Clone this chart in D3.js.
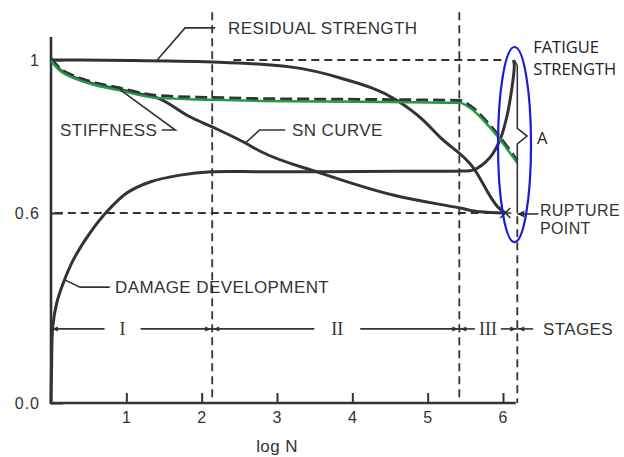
<!DOCTYPE html>
<html>
<head>
    <meta charset="utf-8">
    <title>Fatigue damage development</title>
    <script src="https://d3js.org/d3.v7.min.js"></script>
    <style>
        body {
            margin: 0;
            background: #fff;
        }
        svg {
            display: block;
            font-family: "Liberation Sans", Arial, sans-serif;
        }
        .lbl {
            font-size: 17px;
            fill: #333;
            letter-spacing: 0.4px;
        }
        .note {
            font-family: "Open Sans", "Noto Sans", sans-serif;
            font-size: 16.5px;
            fill: #222;
        }
        .axis text {
            font-size: 16px;
            fill: #333;
            letter-spacing: 1px;
        }
        .axis line {
            stroke: #333;
            stroke-width: 2;
        }
        .curve {
            fill: none;
            stroke: #333;
            stroke-width: 3;
        }
        .guide {
            fill: none;
            stroke: #333;
            stroke-width: 1.8;
            stroke-dasharray: 8 5;
        }
        .leader {
            fill: none;
            stroke: #333;
            stroke-width: 1.6;
        }
    </style>
</head>
<body>
<svg id="chart" width="624" height="457"></svg>
<script>
    // axis ticks
    const tickLogN = [1, 2, 3, 4, 5, 6];
    const tickStrength = [0, 0.6, 1];
    const tickStrengthLabels = ["0.0", "0.6", "1"];

    // curves (log N, normalised value)
    const residualX = [0, 1.05, 2.14, 3.17, 3.84, 4.59, 4.94, 5.16, 5.60, 5.93, 6.03];
    const residualY = [1.0, 0.999, 0.995, 0.982, 0.953, 0.895, 0.843, 0.799, 0.720, 0.616, 0.60];

    const stiffnessX = [0, 0.12, 0.29, 0.52, 0.88, 1.41, 2.14, 2.77, 4.10, 5.43, 5.56, 5.83, 6.19];
    const stiffnessY = [1.0, 0.974, 0.956, 0.940, 0.924, 0.903, 0.898, 0.895, 0.893, 0.890, 0.877, 0.825, 0.733];

    const snX = [0, 0.12, 0.29, 0.52, 0.88, 1.18, 1.41, 1.85, 2.14, 2.58, 2.77, 3.57, 4.54, 5.43, 5.69, 6.03];
    const snY = [1.0, 0.974, 0.956, 0.940, 0.924, 0.911, 0.901, 0.851, 0.825, 0.783, 0.762, 0.705, 0.647, 0.613, 0.603, 0.60];

    const damageX = [0, 0.007, 0.023, 0.076, 0.163, 0.296, 0.518, 0.740, 1.005, 1.314, 1.712, 2.133, 2.77, 3.57, 4.63, 5.43, 5.60, 5.83, 5.96, 6.05, 6.12, 6.15, 6.14];
    const damageY = [0, 0.104, 0.240, 0.316, 0.379, 0.452, 0.537, 0.603, 0.652, 0.681, 0.699, 0.708, 0.708, 0.708, 0.709, 0.710, 0.712, 0.746, 0.791, 0.851, 0.929, 0.985, 1.0];

    // stage boundaries
    const stageBounds = [0, 2.14, 5.42, 6.19];
    const stageNames = ["I", "II", "III"];
    const stageLabelAt = [0.95, 3.80, 5.80];
    const stageLevel = 0.234;

    const rupture = [6.03, 0.60];
    const fatigueTop = [6.15, 1.0];

    const svg = d3.select("#chart");
    svg.append("rect").attr("width", 624).attr("height", 457).attr("fill", "#fff");

    const x = d3.scaleLinear().domain([0, 6]).range([51, 503]);
    // the drawing is schematic: the 0.6 line sits higher than a linear scale would put it
    const y = d3.scaleLinear().domain([0, 0.6, 1]).range([403, 213, 60]);

    const zip = (xs, ys) => xs.map((v, i) => [v, ys[i]]);
    const smooth = d3.line().x(d => x(d[0])).y(d => y(d[1])).curve(d3.curveMonotoneX);
    const loose = d3.line().x(d => x(d[0])).y(d => y(d[1])).curve(d3.curveCatmullRom.alpha(0.5));
    const straight = d3.line().x(d => x(d[0])).y(d => y(d[1]));

    // dashed guides
    svg.append("path").attr("class", "guide").attr("d", straight([[2.42, 1], [6.05, 1]]));
    svg.append("path").attr("class", "guide").attr("d", straight([[0.05, 0.6], rupture]));
    svg.append("path").attr("class", "guide").attr("d", straight([[2.14, 1.125], [2.14, 0]]));
    svg.append("path").attr("class", "guide").attr("d", straight([[5.42, 1.125], [5.42, 0]]));
    svg.append("path").attr("class", "guide").attr("d", straight([[6.19, 0.59], [6.19, 0]]));

    // axes
    const xAxis = svg.append("g").attr("class", "axis")
        .attr("transform", `translate(0,${y(0)})`)
        .call(d3.axisBottom(x).tickValues(tickLogN).tickSize(-10).tickPadding(9).tickFormat(d3.format("d")));
    xAxis.select(".domain").remove();

    const yAxis = svg.append("g").attr("class", "axis")
        .attr("transform", `translate(${x(0)},0)`)
        .call(d3.axisLeft(y).tickValues(tickStrength).tickSize(-12).tickPadding(11)
            .tickFormat((d, i) => tickStrengthLabels[i]));
    yAxis.select(".domain").remove();

    svg.append("path").attr("fill", "none").attr("stroke", "#333").attr("stroke-width", 2.6)
        .attr("d", straight([[0, 1.06], [0, 0], [6.17, 0]]));

    // curves
    svg.append("path").attr("class", "curve").attr("d", smooth(zip(residualX, residualY)));
    svg.append("path").attr("class", "curve").attr("d", smooth(zip(snX, snY)));
    svg.append("path").attr("class", "curve").attr("d", loose(zip(damageX, damageY)));

    const stiff = zip(stiffnessX, stiffnessY);
    svg.append("path").attr("class", "curve").attr("transform", "translate(0,-1.5)")
        .attr("stroke-width", 2.6).attr("stroke-dasharray", "12 5").attr("d", smooth(stiff));
    svg.append("path").attr("fill", "none").attr("stroke", "#1f9b45").attr("stroke-width", 2.4)
        .attr("transform", "translate(0,0.8)").attr("d", smooth(stiff));

    // brace "A" from the fatigue strength down to rupture
    const bx = 6.19, tip = 0.801;
    const bracePts = [fatigueTop, [bx, 0.985], [bx, tip + 0.02], [bx + 0.13, tip], [bx, tip - 0.02], [bx, 0.6]];
    svg.append("path").attr("class", "leader").attr("stroke-width", 1.8)
        .attr("d", straight(bracePts));

    // rupture mark and arrow
    const rx0 = x(rupture[0]), ry0 = y(rupture[1]);
    svg.append("path").attr("class", "leader").attr("stroke-width", 1.5)
        .attr("d", `M${rx0 - 5},${ry0 - 5}L${rx0 + 5},${ry0 + 5}M${rx0 - 5},${ry0 + 5}L${rx0 + 5},${ry0 - 5}M${rx0 - 6},${ry0}L${rx0 + 6},${ry0}`);
    svg.append("path").attr("class", "leader").attr("d", straight([[bx, 0.597], [6.47, 0.597]]));
    svg.append("path").attr("fill", "#333")
        .attr("d", `M${x(bx)},${y(0.597)}l7,-3.5l0,7z`);

    // leaders to the labels
    const leaders = [
        [[1.41, 1.0], [1.78, 1.084], [2.18, 1.084]],
        [[0.92, 0.922], [1.65, 0.817], [1.47, 0.817]],
        [[2.58, 0.783], [2.77, 0.817], [3.11, 0.817]],
        [[0.19, 0.388], [0.385, 0.366], [0.78, 0.366]]
    ];
    leaders.forEach(p => svg.append("path").attr("class", "leader").attr("d", straight(p)));

    const labels = [
        { t: "RESIDUAL STRENGTH", v: [2.35, 1.084], a: "start", s: 17 },
        { t: "STIFFNESS", v: [1.41, 0.817], a: "end", s: 17 },
        { t: "SN CURVE", v: [3.20, 0.817], a: "start", s: 17 },
        { t: "DAMAGE DEVELOPMENT", v: [0.85, 0.366], a: "start", s: 17 },
        { t: "STAGES", v: [6.53, stageLevel], a: "start", s: 17 },
        { t: "RUPTURE", v: [6.49, 0.608], a: "start", s: 16 },
        { t: "POINT", v: [6.49, 0.551], a: "start", s: 16 }
    ];
    labels.forEach(d => {
        svg.append("text").attr("class", "lbl")
            .attr("x", x(d.v[0])).attr("y", y(d.v[1])).attr("dy", "0.36em")
            .attr("font-size", d.s).style("font-size", d.s + "px")
            .attr("text-anchor", d.a).text(d.t);
    });

    const notes = [
        { t: "FATIGUE", v: [6.40, 1.033] },
        { t: "STRENGTH", v: [6.40, 0.976] },
        { t: "A", v: [6.45, 0.797] }
    ];
    notes.forEach(d => {
        svg.append("text").attr("class", "note")
            .attr("x", x(d.v[0])).attr("y", y(d.v[1])).attr("dy", "0.36em").text(d.t);
    });

    // stages line
    const sy = y(stageLevel);
    const gaps = [15, 17, 4];
    const stageG = svg.append("g");
    stageNames.forEach((name, i) => {
        const t = stageG.append("text")
            .attr("x", x(stageLabelAt[i])).attr("y", sy).attr("dy", "0.36em")
            .attr("text-anchor", "middle")
            .attr("font-family", "'Liberation Serif', serif").attr("font-size", 18).attr("fill", "#333")
            .text(name);
        const w = t.node().getComputedTextLength();
        const left = x(stageLabelAt[i]) - w / 2 - gaps[i];
        const right = x(stageLabelAt[i]) + w / 2 + gaps[i];
        stageG.append("line").attr("class", "leader").attr("stroke-width", 1.4)
            .attr("x1", x(stageBounds[i])).attr("x2", left).attr("y1", sy).attr("y2", sy);
        stageG.append("line").attr("class", "leader").attr("stroke-width", 1.4)
            .attr("x1", right).attr("x2", x(stageBounds[i + 1])).attr("y1", sy).attr("y2", sy);
    });
    stageG.append("line").attr("class", "leader").attr("stroke-width", 1.4)
        .attr("x1", x(stageBounds[3])).attr("x2", x(6.40)).attr("y1", sy).attr("y2", sy);
    // arrowheads pointing to each boundary
    stageBounds.forEach((b, i) => {
        const bx0 = x(b);
        stageG.append("path").attr("fill", "#333").attr("d", `M${bx0 + 1},${sy}l6,-2.5l0,5z`);
        if (i > 0) stageG.append("path").attr("fill", "#333").attr("d", `M${bx0 - 1},${sy}l-6,-2.5l0,5z`);
    });

    // blue ellipse around the stage III end
    const eTop = y(1.034), eBot = y(0.508);
    svg.append("ellipse")
        .attr("cx", x(6.153)).attr("cy", (eTop + eBot) / 2)
        .attr("rx", 16.5).attr("ry", (eBot - eTop) / 2)
        .attr("fill", "none").attr("stroke", "#1c1cd8").attr("stroke-width", 2.2);

    // axis title
    svg.append("text").attr("class", "lbl")
        .attr("x", x(3.0)).attr("y", 446).attr("dy", "0.36em")
        .attr("text-anchor", "middle").attr("letter-spacing", "1.2px").text("log N");
</script>
</body>
</html>
